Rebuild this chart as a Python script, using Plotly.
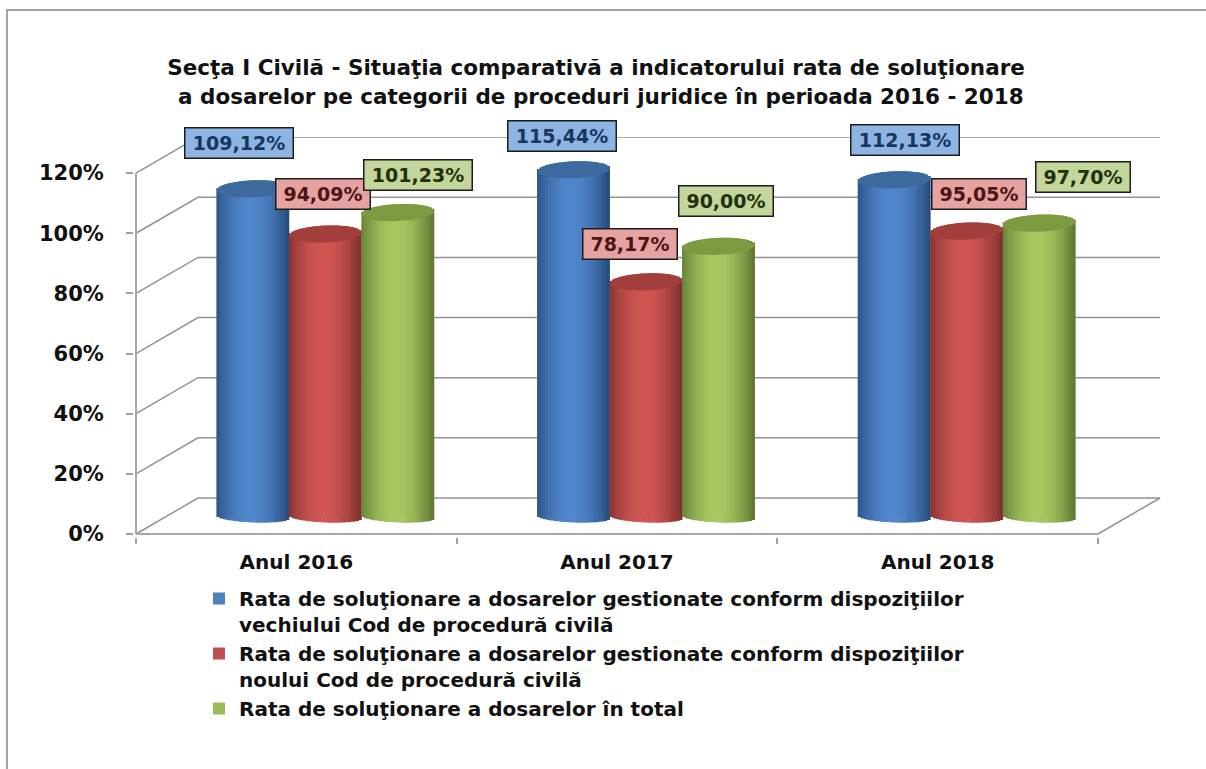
import math
import plotly.graph_objects as go

categories = ["Anul 2016", "Anul 2017", "Anul 2018"]
series_names = [
    "Rata de soluţionare a dosarelor gestionate conform dispoziţiilor<br>vechiului Cod de procedură civilă",
    "Rata de soluţionare a dosarelor gestionate conform dispoziţiilor<br>noului Cod de procedură civilă",
    "Rata de soluţionare a dosarelor în total",
]
old_code = [109.12, 115.44, 112.13]
new_code = [94.09, 78.17, 95.05]
total = [101.23, 90.00, 97.70]
y_ticks = [0, 20, 40, 60, 80, 100, 120]

# --- styling ---
FONT = "DejaVu Sans"
PX_X = 320.67            # pixels per category
PX_Y = 3.008             # pixels per percentage point
u_x = lambda px: px / PX_X
u_y = lambda px: px / PX_Y
GRID = "#939393"
DEPTH_X, DEPTH_Y = u_x(62), u_y(36)
BAR_W = u_x(72.5)
GROUP_SHIFT = u_x(29)
BASE = u_y(17)
CAP_E, FOOT_E, TILT = u_y(8.5), u_y(5.5), u_y(1.5)

styles = [
    dict(main="#4f81bd", dark=(40, 78, 126), light=(80, 134, 204), cap="#3c6a9f",
         lab="#8db4e2", txt="#17375e", off=0),
    dict(main="#c0504d", dark=(128, 48, 46), light=(208, 86, 83), cap="#a23f3c",
         lab="#e6a3a1", txt="#4d1513", off=1),
    dict(main="#9bbb59", dark=(96, 122, 52), light=(168, 200, 96), cap="#7d9a41",
         lab="#c3d69b", txt="#23300c", off=2),
]
series = [old_code, new_code, total]
label_shift = [  # pixel offset of each value box from its bar top
    [(-13.5, 45.5), (-12, 34), (11, 40)],
    [(-2.5, 40.5), (-16, 38), (12.5, 37)],
    [(20.5, 38), (7, 45), (44, 46)],
]

fig = go.Figure()
shapes = []
annotations = []
N = 26


def shade(st, u):
    t = max(0.0, 1 - abs(u + 0.05) ** 1.9)
    return "rgb(%d,%d,%d)" % tuple(round(d + (l - d) * t) for d, l in zip(st["dark"], st["light"]))


for s, (vals, st, name) in enumerate(zip(series, styles, series_names)):
    centers = [i + GROUP_SHIFT + (s - 1) * BAR_W for i in range(len(categories))]
    fig.add_trace(go.Bar(x=centers, y=vals, base=[BASE] * 3, width=BAR_W * 0.98, name=name,
                         marker=dict(color=st["main"], line=dict(width=0)),
                         hoverinfo="skip"))
    xs, ys, bases, cols = [], [], [], []
    for cx, v in zip(centers, vals):
        for k in range(N):
            u = -1 + (2 * k + 1) / N
            r = math.sqrt(1 - u * u)
            lo = BASE - FOOT_E * r - TILT * u
            hi = BASE + v + CAP_E * r + TILT * u
            xs.append(cx + u * BAR_W / 2)
            bases.append(lo)
            ys.append(hi - lo)
            cols.append(shade(st, u))
    fig.add_trace(go.Bar(x=xs, y=ys, base=bases, width=BAR_W / N * 1.15, showlegend=False,
                         marker=dict(color=cols, line=dict(width=0)), hoverinfo="skip"))
    for i, (cx, v) in enumerate(zip(centers, vals)):
        pts = []
        for a in range(0, 360, 12):
            c, d = math.cos(math.radians(a)), math.sin(math.radians(a))
            pts.append((cx + BAR_W / 2 * c, BASE + v + CAP_E * d + TILT * c))
        path = "M" + " L".join(f"{x:.4f},{y:.3f}" for x, y in pts) + " Z"
        shapes.append(dict(type="path", path=path, xref="x", yref="y", layer="above",
                           fillcolor=st["cap"], line=dict(width=0)))
        dx, dy = label_shift[s][i]
        annotations.append(dict(
            x=cx, y=BASE + v, xref="x", yref="y", xshift=dx, yshift=dy, showarrow=False,
            text=f"{v:.2f}%".replace(".", ","), xanchor="center", yanchor="middle",
            font=dict(family=FONT, size=19, color=st["txt"], weight="bold"),
            bgcolor=st["lab"], bordercolor="#1c1c1c", borderwidth=1.5,
            width=105 if v >= 100 else 91, height=27))

# wall and floor lines, built from the axis ticks
x0, x1 = -0.5, len(categories) - 0.5
for t in y_ticks:
    shapes.append(dict(type="path", xref="x", yref="y", layer="below",
                       path=f"M{x0},{t} L{x0 + DEPTH_X},{t + DEPTH_Y} L{x1 + DEPTH_X},{t + DEPTH_Y}",
                       line=dict(color=GRID, width=1.5)))
shapes.append(dict(type="line", xref="x", yref="y", layer="below", x0=x1, y0=0,
                   x1=x1 + DEPTH_X, y1=DEPTH_Y, line=dict(color=GRID, width=1.5)))
shapes.append(dict(type="line", xref="x", yref="y", layer="below", x0=x0, y0=0,
                   x1=x1, y1=0, line=dict(color="#a8a8a8", width=2)))
shapes.append(dict(type="line", xref="x", yref="y", layer="below", x0=x0, y0=0,
                   x1=x0, y1=120, line=dict(color="#a8a8a8", width=2)))

# thin frame on the left and top edges of the picture
W, H, ML, MR, MT, MB = 1206, 769, 134, 44, 137, 232
px2x = lambda p: (p - ML) / (W - ML - MR)
py2y = lambda p: (H - MB - p) / (H - MB - MT)
shapes.append(dict(type="path", xref="paper", yref="paper", layer="above",
                   path=f"M{px2x(7)},{py2y(769)} L{px2x(7)},{py2y(10)} L{px2x(1206)},{py2y(10)}",
                   line=dict(color="#a3a3a3", width=2)))

annotations.append(dict(
    x=px2x(601), y=py2y(97), xref="paper", yref="paper", showarrow=False, xanchor="center",
    yanchor="middle",
    text="a dosarelor pe categorii de proceduri juridice în perioada 2016 - 2018",
    font=dict(family=FONT, size=21.5, color="#111111", weight="bold")))

fig.update_layout(
    width=W, height=H, autosize=False,
    margin=dict(l=ML, r=MR, t=MT, b=MB, pad=0),
    paper_bgcolor="white", plot_bgcolor="white",
    barmode="overlay",
    title=dict(text="Secţa I Civilă - Situaţia comparativă a indicatorului rata de soluţionare",
               x=596 / W, xanchor="center", xref="container", y=1 - 67 / H, yanchor="middle",
               yref="container",
               font=dict(family=FONT, size=21.5, color="#111111", weight="bold")),
    xaxis=dict(range=[x0 - u_x(2), x1 + u_x(64)], tickmode="array",
               tickvals=list(range(len(categories))), ticktext=categories, ticks="",
               showgrid=False, zeroline=False, showline=False, ticklabelstandoff=11,
               tickfont=dict(family=FONT, size=20, color="#111111", weight="bold"),
               minor=dict(tickmode="array", tickvals=[x0 + i for i in range(len(categories) + 1)],
                          ticks="outside", ticklen=6, tickwidth=1.5, tickcolor="#a0a0a0",
                          showgrid=False)),
    yaxis=dict(range=[-1, 132], tickmode="array", tickvals=y_ticks,
               ticktext=[f"{t}%" for t in y_ticks], ticks="outside", ticklen=7, tickwidth=1.5,
               tickcolor="#a0a0a0", showgrid=False, zeroline=False, showline=False,
               ticklabelstandoff=18,
               tickfont=dict(family=FONT, size=21, color="#111111", weight="bold")),
    legend=dict(x=px2x(199), y=py2y(579), xanchor="left", yanchor="top", traceorder="normal",
                bgcolor="rgba(0,0,0,0)", itemclick=False, itemdoubleclick=False, valign="top",
                font=dict(family=FONT, size=20, color="#111111", weight="bold")),
    shapes=shapes, annotations=annotations, showlegend=True,
)

fig.write_html("out.html", config=dict(displayModeBar=False),
               post_script="document.body.style.margin='0';")
